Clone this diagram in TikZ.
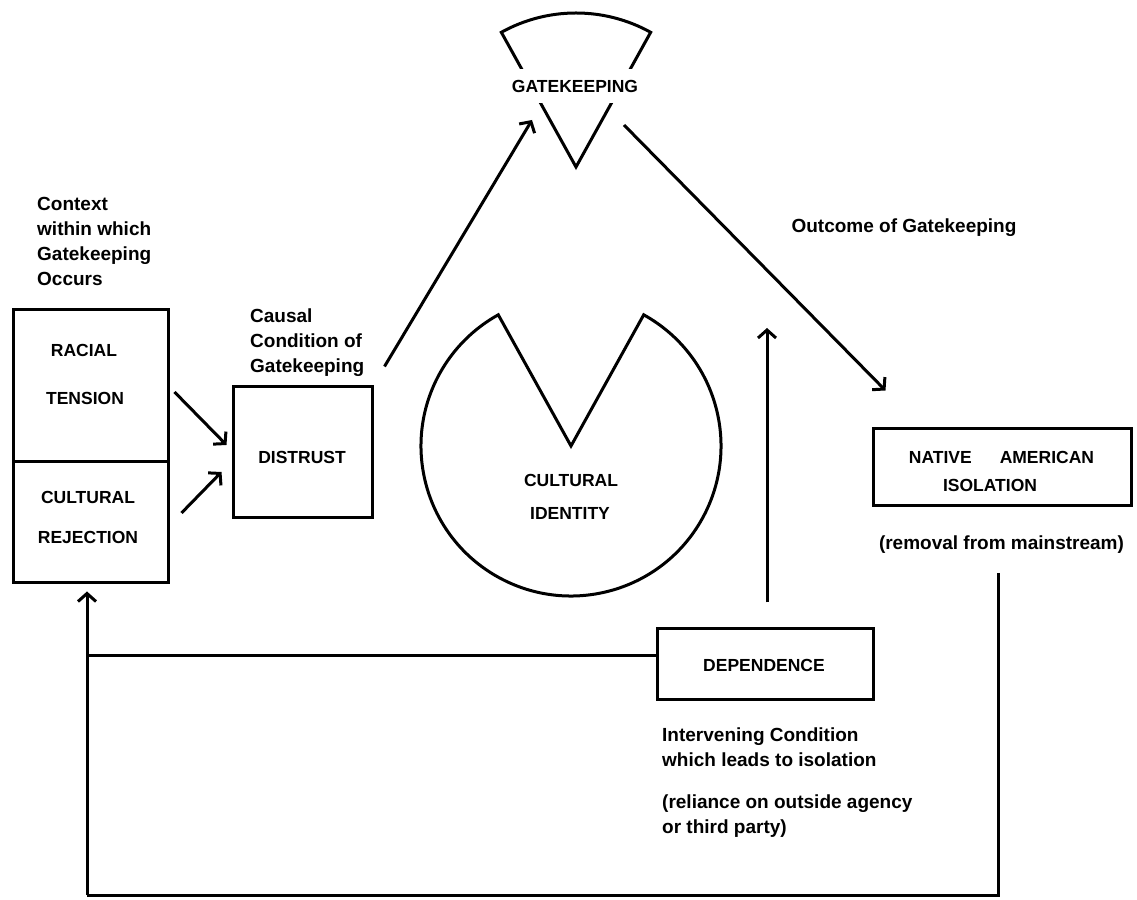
\documentclass[tikz,border=0pt]{standalone}
\usepackage{fontspec}
\setmainfont{Liberation Sans}
\usetikzlibrary{arrows.meta,calc}
\begin{document}
\begin{tikzpicture}[x=1pt,y=1pt,
  every node/.style={inner sep=0pt},
  box/.style={draw, line width=3pt},
  captxt/.style={font=\fontsize{17.5}{21}\selectfont\bfseries},
  lab/.style={font=\fontsize{19}{25}\selectfont\bfseries, align=left},
  ln/.style={line width=3pt},
  arr/.style={line width=3pt, -{Straight Barb[length=8pt,width=18pt,line width=3pt]}}]
\useasboundingbox (0,0) rectangle (1137,899);

% left context boxes
\node[box, minimum width=155pt, minimum height=152pt] (rt) at (90.5,513) {};
\node[box, minimum width=155pt, minimum height=121pt] (cr) at (90.5,376.5) {};
\node[captxt] (racial) at (84,549) {RACIAL};
\node[captxt] (tension) at (85,501) {TENSION};
\node[captxt] (cultural) at (88,402) {CULTURAL};
\node[captxt] (rejection) at (88,362) {REJECTION};
\node[lab, anchor=west] (context) at (37,658) {Context\\within which\\Gatekeeping\\Occurs};

% distrust
\node[box, minimum width=139pt, minimum height=131pt] (dis) at (302.5,446.5) {};
\node[captxt] (distrust) at (302,442) {DISTRUST};
\node[lab, anchor=west] (causal) at (250,556) {Causal\\Condition of\\Gatekeeping};

\draw[arr] ([shift={(5,-6)}]rt.east) -- ([shift={(-5,7.5)}]dis.west);
\draw[arr] ([shift={(12,9.5)}]cr.east) -- ([shift={(-10,-19.5)}]dis.west);

% gatekeeping wedge
\coordinate (gapex) at (576,732);
\draw[ln, line join=miter] (gapex) -- ($(gapex)+(61:154)$) arc[start angle=61,end angle=119,radius=154] -- cycle;
\node[captxt, fill=white, inner xsep=2pt, inner ysep=11pt] (gate) at (575,813) {GATEKEEPING};
\coordinate (gin) at (532,779);
\coordinate (gout) at (624,774);
\draw[arr] ([shift={(11,19)}]dis.north east) -- (gin);

% cultural identity
\coordinate (ci) at (571,453);
\draw[ln, line join=miter] (ci) -- ($(ci)+(61:150)$) arc[start angle=61,end angle=-241,radius=150] -- cycle;
\node[captxt] (cul) at (571,419) {CULTURAL};
\node[captxt] (ident) at (570,386) {IDENTITY};

% outcome
\node[lab] (outcome) at (904,671) {Outcome of Gatekeeping};
\node[box, minimum width=258pt, minimum height=77pt] (nai) at (1002,431.5) {};
\node[captxt] (native) at (1001.5,442) {NATIVE\hspace{1.6em}AMERICAN};
\node[captxt] (isol) at (990,414) {ISOLATION};
\node[lab] (removal) at (1001.5,354) {(removal from mainstream)};
\draw[arr] (gout) -- ([shift={(14,37)}]nai.north west);

% dependence
\node[box, minimum width=216pt, minimum height=71pt] (dep) at (765,234.5) {};
\node[captxt] (dependence) at (764,234) {DEPENDENCE};
\node[lab, anchor=west] (interv) at (662,151.5) {Intervening Condition\\which leads to isolation};
\node[lab, anchor=west] (reliance) at (662,82.5) {(reliance on outside agency\\or third party)};
\draw[arr] ([shift={(2,25)}]dep.north) -- (767,571);

% feedback loop
\coordinate (rt1) at (998,326);
\coordinate (br) at (998,4);
\coordinate (bl) at (87,4);
\coordinate (jn) at (87,243);
\draw[ln] (rt1) -- (br) -- (bl);
\draw[arr] (bl) -- ([shift={(-3.5,-7)}]cr.south);
\draw[ln] ([yshift=8.5]dep.west) -- (jn);
\end{tikzpicture}
\end{document}
